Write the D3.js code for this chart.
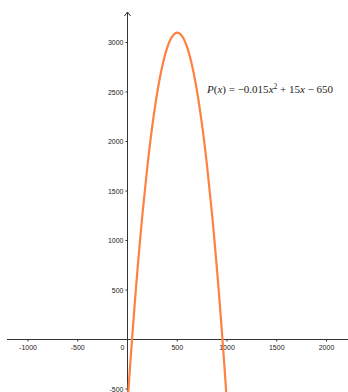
<!DOCTYPE html>
<html><head><meta charset="utf-8">
<script src="https://cdn.jsdelivr.net/npm/d3@7"></script>
<style>
html,body{margin:0;padding:0;background:#fff;}
svg{display:block;}
</style></head>
<body>
<svg id="chart" width="348" height="392"></svg>
<script>
// Points read along the plotted curve P(x)
const xValues = [0, 25, 50, 75, 100, 150, 200, 250, 300, 350, 400, 450, 500, 550, 600, 650, 700, 750, 800, 850, 900, 925, 950, 975, 1000];
const yValues = [-650, -284.4, 62.5, 390.6, 700, 1262.5, 1750, 2162.5, 2500, 2762.5, 2950, 3062.5, 3100, 3062.5, 2950, 2762.5, 2500, 2162.5, 1750, 1262.5, 700, 390.6, 62.5, -284.4, -650];
const xTicks = [-1000, -500, 500, 1000, 1500, 2000];
const yTicks = [-500, 500, 1000, 1500, 2000, 2500, 3000];

const W = 348, H = 392;
const svg = d3.select("#chart");
const x = d3.scaleLinear().domain([0, 2000]).range([127.5, 326.5]);
const y = d3.scaleLinear().domain([0, 3000]).range([339.5, 42.5]);

const axisColor = "#333";
svg.append("line").attr("x1", 7).attr("x2", W).attr("y1", y(0)).attr("y2", y(0))
  .attr("stroke", axisColor).attr("stroke-width", 1);
svg.append("line").attr("x1", x(0)).attr("x2", x(0)).attr("y1", 12).attr("y2", H)
  .attr("stroke", axisColor).attr("stroke-width", 1);
svg.append("path")
  .attr("d", `M${x(0)-3},${16} L${x(0)},${12} L${x(0)+3},${16}`)
  .attr("fill", "none").attr("stroke", axisColor).attr("stroke-width", 1);

const tickFont = "Liberation Sans, Arial, sans-serif";
const xg = svg.append("g");
xTicks.forEach(t => {
  xg.append("line").attr("x1", x(t)).attr("x2", x(t)).attr("y1", y(0)).attr("y2", y(0) + 2)
    .attr("stroke", axisColor).attr("stroke-width", 1);
  xg.append("text").attr("x", x(t)).attr("y", y(0) + 10.5).attr("text-anchor", "middle")
    .attr("font-family", tickFont).attr("font-size", 7).attr("fill", "#222").text(t);
});
svg.append("text").attr("x", x(0) - 5).attr("y", y(0) + 10.5).attr("text-anchor", "middle")
  .attr("font-family", tickFont).attr("font-size", 7).attr("fill", "#222").text("0");
const yg = svg.append("g");
yTicks.forEach(t => {
  yg.append("line").attr("x1", x(0) - 2).attr("x2", x(0)).attr("y1", y(t)).attr("y2", y(t))
    .attr("stroke", axisColor).attr("stroke-width", 1);
  yg.append("text").attr("x", x(0) - 4).attr("y", y(t) + 2.5).attr("text-anchor", "end")
    .attr("font-family", tickFont).attr("font-size", 7).attr("fill", "#222").text(t);
});

const pts = xValues.map((v, i) => [v, yValues[i]]);
svg.append("clipPath").attr("id", "clip").append("rect")
  .attr("x", 0).attr("y", 0).attr("width", W).attr("height", H);
svg.append("path")
  .datum(pts)
  .attr("clip-path", "url(#clip)")
  .attr("d", d3.line().x(d => x(d[0])).y(d => y(d[1])).curve(d3.curveCatmullRom.alpha(0.5)))
  .attr("fill", "none").attr("stroke", "#ff8040").attr("stroke-width", 2.2)
  .attr("stroke-linejoin", "round");

const lab = svg.append("text").attr("x", 207).attr("y", 93)
  .attr("font-family", "Liberation Serif, Times New Roman, serif").attr("font-size", 11).attr("fill", "#222");
lab.append("tspan").attr("font-style", "italic").text("P");
lab.append("tspan").text("(");
lab.append("tspan").attr("font-style", "italic").text("x");
lab.append("tspan").text(") = −0.015");
lab.append("tspan").attr("font-style", "italic").text("x");
lab.append("tspan").attr("font-size", 7.5).attr("dy", -4.5).text("2");
lab.append("tspan").attr("dy", 4.5).text(" + 15");
lab.append("tspan").attr("font-style", "italic").text("x");
lab.append("tspan").text(" − 650");
</script>
</body></html>
